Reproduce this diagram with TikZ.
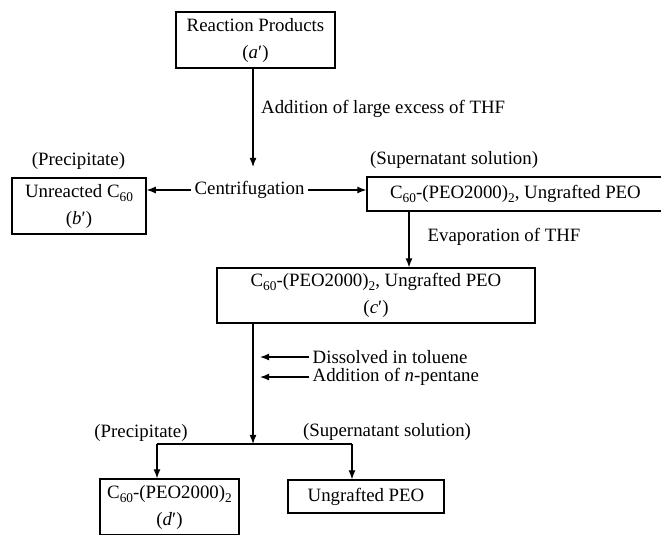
\documentclass[tikz,border=0pt]{standalone}
\usepackage{fontspec}
\setmainfont{Liberation Serif}
\usetikzlibrary{arrows.meta}
\newcommand{\lowsub}[1]{\raisebox{-0.5ex}{\fontsize{8}{8}\selectfont #1}}

\begin{document}
\begin{tikzpicture}[
    x=0.6pt, y=-0.6pt,
    >={Latex[length=5.5pt,width=4.2pt]},
    every node/.style={font=\fontsize{11.3}{16.2}\selectfont},
    stage/.style={draw, line width=0.7pt, align=center, inner sep=0pt},
    note/.style={inner sep=2pt},
    link/.style={->, line width=0.7pt}
]
    \useasboundingbox (0,0) rectangle (661,534);%frame

    \node[stage, minimum width=95.4pt, minimum height=33.6pt] (prod) at (255.5,40) {Reaction Products\\(\textit{a}′)};
    \node[stage, minimum width=80.4pt, minimum height=33.6pt] (unreact) at (79,206) {Unreacted C\lowsub{60}\\(\textit{b}′)};
    \node[stage, minimum width=178.2pt, minimum height=20.4pt] (super) at (515.5,194) {C\lowsub{60}-(PEO2000)\lowsub{2}, Ungrafted PEO};
    \node[stage, minimum width=190.8pt, minimum height=33pt] (mix) at (376,295.5) {C\lowsub{60}-(PEO2000)\lowsub{2}, Ungrafted PEO\\(\textit{c}′)};
    \node[stage, minimum width=83.4pt, minimum height=33.6pt] (grafted) at (169.5,507) {C\lowsub{60}-(PEO2000)\lowsub{2}\\(\textit{d}′)};
    \node[stage, minimum width=93.6pt, minimum height=19.8pt] (ungraft) at (366,496.5) {Ungrafted PEO};

    \node[note] (centri) at (249.5,190) {Centrifugation};
    \node[note, anchor=west] (excess) at (257.5,109) {Addition of large excess of THF};
    \node[note] (prec1) at (78.5,161) {(Precipitate)};
    \node[note, anchor=west] (sup1) at (366.5,160) {(Supernatant solution)};
    \node[note, anchor=west] (evap) at (424,237) {Evaporation of THF};
    \node[note, anchor=west] (dissolve) at (309,357) {Dissolved in toluene};
    \node[note, anchor=west] (pentane) at (309,377) {Addition of \textit{n}-pentane};
    \node[note] (prec2) at (141,433) {(Precipitate)};
    \node[note] (sup2) at (387,432) {(Supernatant solution)};

    \coordinate (split) at (253,444);
    \coordinate (lft) at (157,444);
    \coordinate (rgt) at (352,444);

    \draw[link] (prod.south -| 253,0) -- (253,167);
    \draw[link] (centri.west) -- (unreact.east |- centri.west);
    \draw[link] (centri.east) -- (super.west |- centri.east);
    \draw[link] (super.south -| 409,0) -- (mix.north -| 409,0);
    \draw[link] (mix.south -| split) -- (split);
    \draw[link] (dissolve.west) -- (dissolve.west -| 260,0);
    \draw[link] (pentane.west) -- (pentane.west -| 260,0);
    \draw[line width=0.7pt] (lft) -- (rgt);
    \draw[link] (lft) -- (lft |- grafted.north);
    \draw[link] (rgt) -- (rgt |- ungraft.north);
\end{tikzpicture}
\end{document}
